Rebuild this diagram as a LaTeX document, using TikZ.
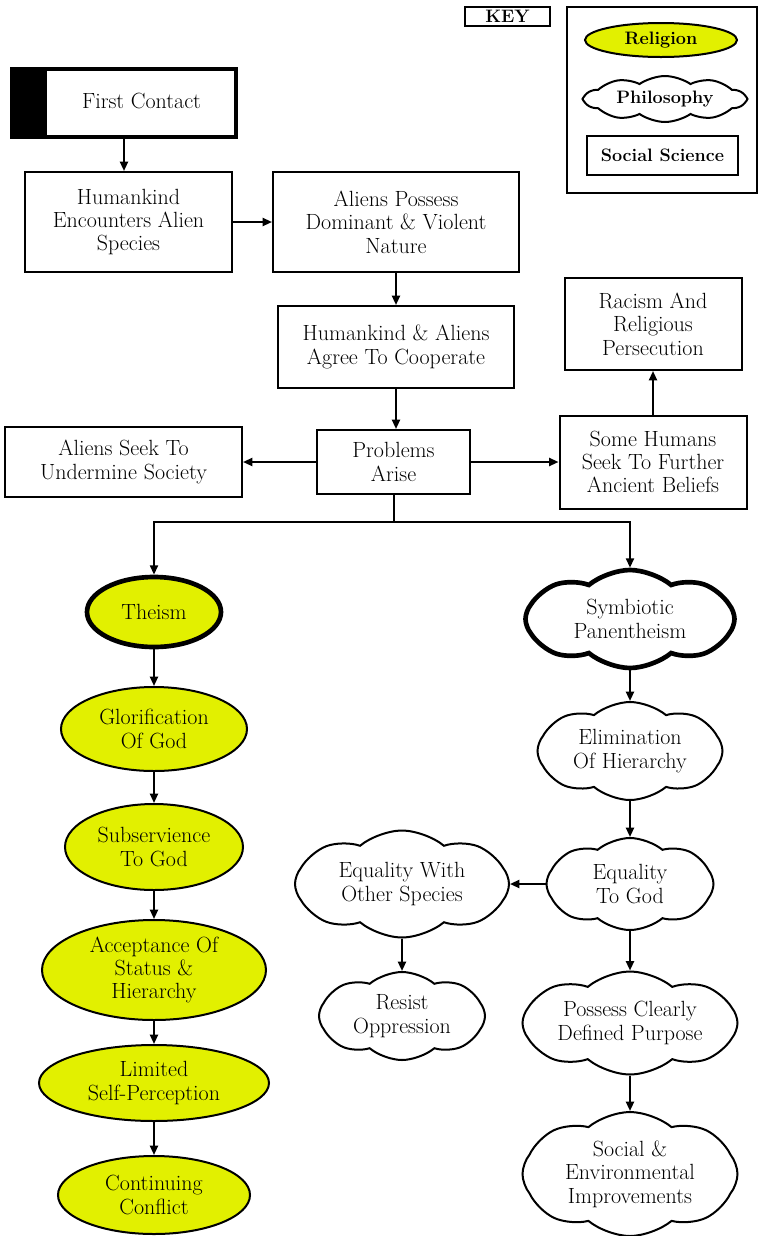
\documentclass[tikz,border=0pt]{standalone}
\usetikzlibrary{shapes.geometric,shapes.symbols,arrows.meta}
\definecolor{rel}{RGB}{226,240,0}
\begin{document}
\begin{tikzpicture}[x=0.75pt,y=-0.75pt,
  font=\fontsize{16.5}{17.5}\selectfont,
  sz/.style n args={2}{minimum width=#1*0.75pt,minimum height=#2*0.75pt},
  box/.style={draw,line width=1.5pt,rectangle,align=center,inner sep=0pt},
  relig/.style={draw,line width=1.5pt,ellipse,fill=rel,align=center,inner sep=0pt},
  phil/.style={draw,line width=1.5pt,cloud,cloud puffs=8,cloud puff arc=80,cloud ignores aspect,align=center,inner sep=0pt},
  arr/.style={line width=1.5pt,-{Triangle[length=7pt,width=6pt]}},
  conn/.style={line width=1.5pt},
  keyfont/.style={font=\bfseries\fontsize{13.5}{15}\selectfont}]
\useasboundingbox (0,0) rectangle (761,1236);
% key
\node[box,line width=1pt,sz={85}{19},keyfont] (key) at (507.5,16.5) {KEY};
\node[draw,line width=1pt,sz={190}{186}] (keyframe) at (662,100) {};
\node[relig,sz={152}{34},keyfont] (krel) at (661,40) {Religion};
\node[phil,cloud puffs=10,cloud puff arc=70,sz={160}{46},keyfont] (kphil) at (665,99) {Philosophy};
\node[box,sz={151}{39},keyfont] (kss) at (662.5,155.5) {Social Science};
% top
\node[box,line width=3pt,sz={224}{68}] (fc) at (124,103) {};
\fill (12,69) rectangle (47,137);
\node (fct) at (141.5,101) {First Contact};
\node[box,sz={207}{100}] (heas) at (128.5,222) {Humankind\\Encounters Alien\\Species};
\node[box,sz={246}{100}] (apdvn) at (396,222) {Aliens Possess\\Dominant \& Violent\\Nature};
\node[box,sz={236}{82}] (haac) at (396,347) {Humankind \& Aliens\\Agree To Cooperate};
\node[box,sz={153}{64}] (pa) at (393.5,462) {Problems\\Arise};
\node[box,sz={237}{70}] (astus) at (123.5,462) {Aliens Seek To\\Undermine Society};
\node[box,sz={187}{93}] (shsf) at (653,462) {Some Humans\\Seek To Further\\Ancient Beliefs};
\node[box,sz={177}{92}] (rrp) at (653,324) {Racism And\\Religious\\Persecution};
% religion column
\node[relig,line width=3.5pt,sz={134}{70}] (theism) at (154,612) {Theism};
\node[relig,sz={186}{84}] (gog) at (154,729) {Glorification\\Of God};
\node[relig,sz={178}{86}] (stg) at (154,847) {Subservience\\To God};
\node[relig,sz={224}{100}] (aosh) at (154,970) {Acceptance Of\\Status \&\\Hierarchy};
\node[relig,sz={230}{76}] (lsp) at (154,1083) {Limited\\Self-Perception};
\node[relig,sz={192}{78}] (cc) at (154,1195) {Continuing\\Conflict};
% philosophy column
\node[phil,line width=3.5pt,sz={209}{98}] (sp) at (630,619) {Symbiotic\\Panentheism};
\node[phil,sz={185}{98}] (eoh) at (630,751) {Elimination\\Of Hierarchy};
\node[phil,sz={167}{92}] (etg) at (630,884) {Equality\\To God};
\node[phil,sz={214}{107}] (ewos) at (402,884) {Equality With\\Other Species};
\node[phil,sz={166}{88}] (ro) at (402,1016) {Resist\\Oppression};
\node[phil,sz={215}{103}] (pcdp) at (630,1023) {Possess Clearly\\Defined Purpose};
\node[phil,sz={215}{124}] (seim) at (630,1174) {Social \&\\Environmental\\Improvements};
% connectors
\draw[arr] (fc.south) -- (heas.north -| fc.south);
\draw[arr] (heas) -- (apdvn);
\draw[arr] (apdvn) -- (haac);
\draw[arr] (haac.south) -- (haac.south |- pa.north);
\draw[arr] (pa) -- (astus);
\draw[arr] (pa) -- (shsf);
\draw[arr] (shsf) -- (rrp);
\coordinate (split) at (393.5,522);
\draw[conn] (pa.south) -- (split);
\draw[arr] (split) -| (theism.north);
\draw[arr] (split) -| (sp.north);
\draw[arr] (theism) -- (gog);
\draw[arr] (gog) -- (stg);
\draw[arr] (stg) -- (aosh);
\draw[arr] (aosh) -- (lsp);
\draw[arr] (lsp) -- (cc);
\draw[arr] (sp) -- (eoh);
\draw[arr] (eoh) -- (etg);
\draw[arr] (etg) -- (ewos);
\draw[arr] (ewos) -- (ro);
\draw[arr] (etg) -- (pcdp);
\draw[arr] (pcdp) -- (seim);
\end{tikzpicture}
\end{document}
